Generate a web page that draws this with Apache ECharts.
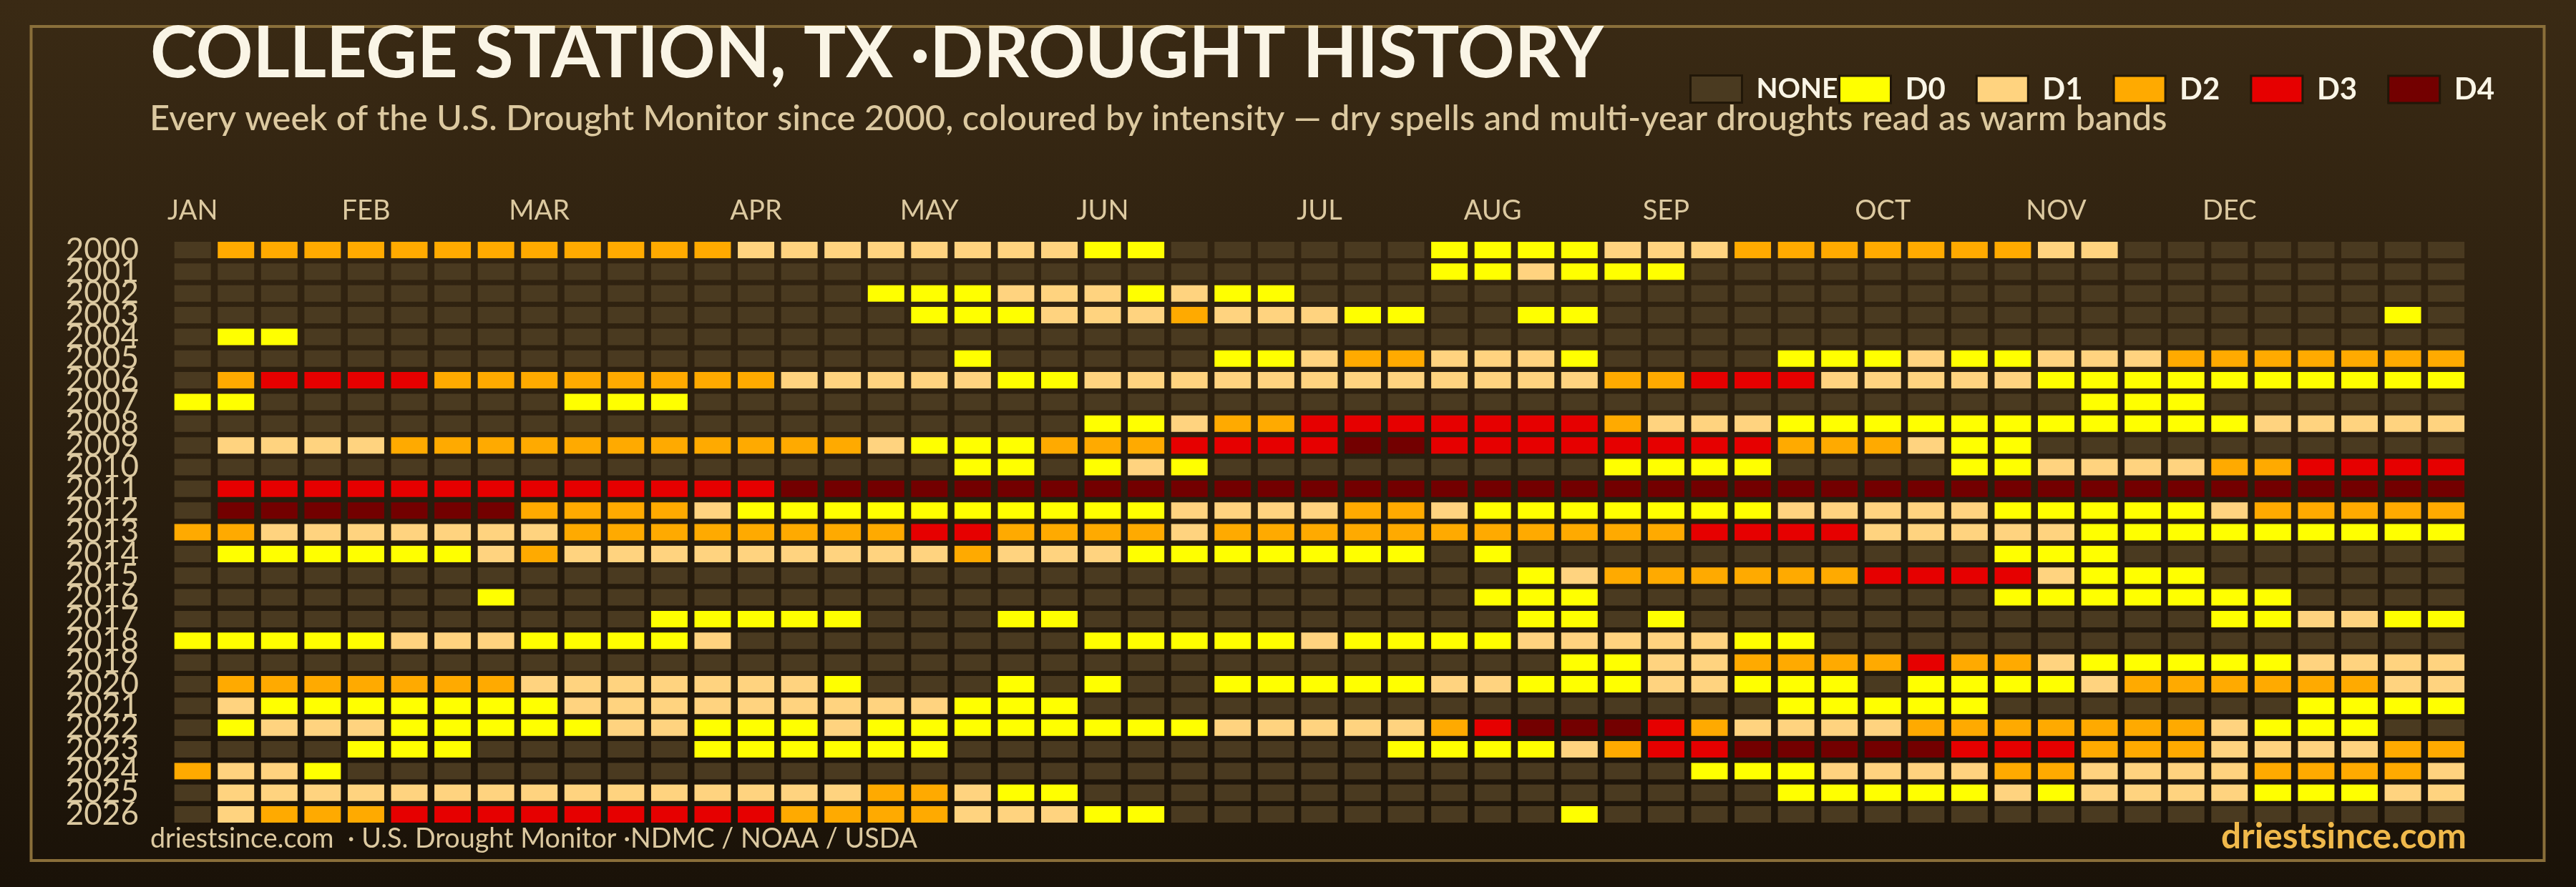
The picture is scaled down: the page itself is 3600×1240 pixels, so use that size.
<!DOCTYPE html>
<html>
<head>
<meta charset="utf-8">
<style>html,body{margin:0;padding:0;background:#1a1208}#c{width:3600px;height:1240px}</style>
<script src="https://cdn.jsdelivr.net/npm/echarts@6/dist/echarts.min.js"></script>
</head>
<body>
<div id="c"></div>
<script>
const years = ['2000','2001','2002','2003','2004','2005','2006','2007','2008','2009','2010','2011','2012','2013','2014','2015','2016','2017','2018','2019','2020','2021','2022','2023','2024','2025','2026'];
const weekLabels = ['JAN','','','','FEB','','','','MAR','','','','','APR','','','','MAY','','','','JUN','','','','','JUL','','','','AUG','','','','SEP','','','','','OCT','','','','NOV','','','','DEC','','','','',''];
const levelNames = ['NONE','D0','D1','D2','D3','D4'];
const levelColors = ['#4a3a20','#ffff00','#ffd37f','#ffaa00','#e60000','#730000'];
const levelCodes = ['.','0','1','2','3','4'];
// one 53-character string per year, one character per week ('.' = none, 0-4 = D0-D4); spaces only group runs
const weekStates = [
 '. 222222222222 11111111 00 ...... 0000 111 2222222 11 ........',
 '............................. 001000 ..................',
 '................ 000 111 0 1 00 ...........................',
 '................. 000 111 2 111 00 .. 00 .................. 0 .',
 '. 00 ..................................................',
 '.................. 0 ..... 00 1 22 111 0 .... 000 1 00 111 2222222',
 '. 2 3333 22222222 111 11 00 111111111111 22 333 11111 0000000000',
 '00 ....... 000 ................................ 000 ......',
 '..................... 00 1 22 3333333 2 111 00000000000 11111',
 '. 1111 22222222222 1 000 222 3333 44 33333333 222 1 00 ..........',
 '.................. 00 . 0 1 0 ......... 0000 .... 00 1111 22 3333',
 '. 3333333333333 444444444444444444444444444444444444444',
 '. 4444444 2222 1 0000 000000 1111 22 1 0000000 11111 00000 1 22222',
 '22 1111111 22222222 33 2222 1 22222222222 3333 11111 000000000',
 '. 000000 1 2 11111111 1 2 111 0000000 . 0 ........... 000 ........',
 '............................... 0 1 222222 3333 1 000 ......',
 '....... 0 ...................... 000 ......... 0000000 ....',
 '........... 00000 ... 00 .......... 00 . 0 ............ 00 11 00',
 '00000 111 0000 1 ........ 00000 1 0000 11111 00 ...............',
 '................................ 00 11 2222 3 22 1 00000 1111',
 '. 2222222 1111111 0 . .. 0 . 0 .. 00000 11 000 11 000 . 0000 1 222222 11',
 '. 1 0000000 11111111 1 000 ................ 00000 ....... 0000',
 '. 0 111 00000 11 000 1 0 0000000 11111 2 3 444 3 2 1111 2222222 1 000 ..',
 '.... 000 ..... 00000 0 .......... 0000 1 2 33 44444 333 222 1111 22',
 '2 11 0 ............................... 000 1111 22 1111 2222 1',
 '. 111111111111111 22 1 00 ................ 00000 1 0 1111 000 11',
 '. 1 222 333333333 222 2 111 00 ......... 0 ....................'
];
const titleText = 'COLLEGE STATION, TX ·DROUGHT HISTORY';
const subtitleText = 'Every week of the U.S. Drought Monitor since 2000, coloured by intensity — dry spells and multi-year droughts read as warm bands';
const sourceText = 'driestsince.com  · U.S. Drought Monitor ·NDMC / NOAA / USDA';
const brandText = 'driestsince.com';

const font = 'Lato';
const series = levelNames.map((name, lv) => {
  const data = [];
  weekStates.forEach((s, y) => {
    s.replace(/ /g, '').split('').forEach((c, w) => { if (c === levelCodes[lv]) data.push([w, y]); });
  });
  return {
    name, type: 'scatter', symbol: 'rect', symbolSize: [51, 23], data, silent: true,
    itemStyle: { color: levelColors[lv], opacity: 1 }, animation: false
  };
});

const legendBase = {
  top: 99, orient: 'horizontal', itemWidth: 72, itemHeight: 38, icon: 'rect',
  itemStyle: { borderColor: '#211708', borderWidth: 3 }, selectedMode: false,
  textStyle: { fontFamily: font, fontSize: 42, fontWeight: 700, color: '#faf5e6', padding: [0, 0, 9, 15] }
};

const chart = echarts.init(document.getElementById('c'), null, { renderer: 'canvas', width: 3600, height: 1240 });
chart.setOption({
  animation: false,
  backgroundColor: { type: 'linear', x: 0, y: 0, x2: 0, y2: 1, colorStops: [{ offset: 0, color: '#3a2a14' }, { offset: 1, color: '#1a1208' }] },
  graphic: [{ type: 'rect', z: -1, shape: { x: 43.5, y: 37, width: 3512, height: 1166 }, style: { fill: 'none', stroke: '#8a6f3a', lineWidth: 4 } }],
  title: [
    { text: titleText, left: 205, top: 22, textStyle: { fontFamily: font, fontSize: 98.7, fontWeight: 700, color: '#faf5e6' } },
    { text: subtitleText, left: 204, top: 137, textStyle: { fontFamily: font, fontSize: 48.9, fontWeight: 500, color: '#dcc9a0' } },
    { text: sourceText, left: 205, top: 1149, textStyle: { fontFamily: font, fontSize: 37.7, fontWeight: 400, color: '#dcc9a0' } },
    { text: brandText, right: 148, top: 1140, textStyle: { fontFamily: font, fontSize: 49.5, fontWeight: 700, color: '#f0b94b' } }
  ],
  legend: [
    Object.assign({}, legendBase, { left: 2356, data: ['NONE'], textStyle: Object.assign({}, legendBase.textStyle, { fontSize: 39 }) }),
    Object.assign({}, legendBase, { left: 2564, itemGap: 42, data: levelNames.slice(1) })
  ],
  grid: { left: 238.9, top: 334.3, width: 3210, height: 819.5, containLabel: false },
  xAxis: {
    type: 'category', position: 'top', data: weekLabels, boundaryGap: true,
    axisLine: { show: false }, axisTick: { show: false }, splitLine: { show: false },
    axisLabel: { interval: 0, hideOverlap: false, margin: 21, fontFamily: font, fontSize: 38, color: '#dcc9a0' }
  },
  yAxis: {
    type: 'category', inverse: true, data: years,
    axisLine: { show: false }, axisTick: { show: false }, splitLine: { show: false },
    axisLabel: { interval: 0, hideOverlap: false, margin: 45, fontFamily: font, fontSize: 44, color: '#dcc9a0', padding: [0, 0, 6, 0] }
  },
  series
});
</script>
</body>
</html>
